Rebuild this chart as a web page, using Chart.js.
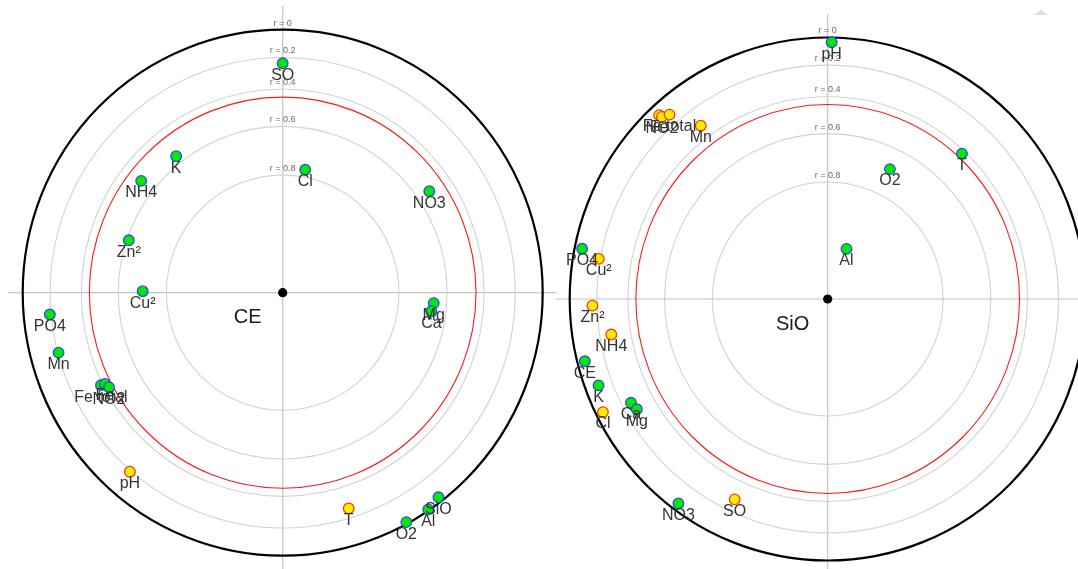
<!DOCTYPE html>
<html><head><meta charset="utf-8">
<script src="https://cdn.jsdelivr.net/npm/chart.js@4/dist/chart.umd.min.js"></script>
<style>
html,body{margin:0;padding:0;background:#fff;overflow:hidden;}
#wrap{position:relative;width:1078px;height:569px;}
#c1{position:absolute;left:0;top:0;}
#c2{position:absolute;left:556px;top:0;}
#tri{position:absolute;left:1034px;top:10px;width:0;height:0;border-left:7px solid transparent;border-right:7px solid transparent;border-bottom:5px solid #ddd;}
</style></head><body>
<div id="wrap"><canvas id="c1" width="556" height="569"></canvas><canvas id="c2" width="522" height="569"></canvas><div id="tri"></div></div>
<script>
// ring correlation levels (distance from centre = sqrt(1 - |r|))
const ringValues = [0, 0.2, 0.4, 0.6, 0.8];
const ringLabels = ['r = 0', 'r = 0.2', 'r = 0.4', 'r = 0.6', 'r = 0.8'];
const thresholdR = 0.447;

// Left panel: correlations with CE
const leftCenter = 'CE';
const leftLabels = ['SO', 'Cl', 'K', 'NH4', 'Zn²', 'Cu²', 'PO4', 'Mn', 'Fe total', 'Fe', 'NO2', 'pH', 'T', 'O2', 'Al', 'SiO', 'Mg', 'Ca', 'NO3'];
const leftAbsR   = [0.239, 0.774, 0.563, 0.523, 0.61, 0.71, 0.191, 0.205, 0.388, 0.412, 0.424, 0.191, 0.263, 0.013, 0.008, 0.036, 0.661, 0.668, 0.533];
const leftAngle  = [90, 79.5, 128.3, 142, 161.4, 179.4, 185.3, 194.8, 206.7, 206.9, 208.3, 229.2, 287.2, 298.6, 304.2, 307.6, 356.1, 353, 34.4];
const leftSign   = [1, 1, 1, 1, 1, 1, 1, 1, 1, 1, 1, -1, -1, 1, 1, 1, 1, 1, 1];

// Right panel: correlations with SiO
const rightCenter = 'SiO';
const rightLabels = ['pH', 'T', 'O2', 'Al', 'Mn', 'Fe', 'NO2', 'Fe total', 'PO4', 'Cu²', 'Zn²', 'NH4', 'CE', 'K', 'Cl', 'Ca', 'Mg', 'NO3', 'SO'];
const rightAbsR   = [0.036, 0.42, 0.695, 0.958, 0.319, 0.079, 0.102, 0.127, 0.057, 0.189, 0.168, 0.278, 0.057, 0.102, 0.054, 0.261, 0.275, 0.054, 0.283];
const rightAngle  = [89.1, 46.9, 64.1, 69.2, 126.6, 132.9, 132.7, 131, 168.6, 170.2, 181.6, 189.2, 194.2, 200.4, 206.4, 207.5, 209.7, 233.5, 244.8];
const rightSign   = [1, 1, 1, 1, -1, -1, -1, -1, 1, -1, -1, -1, 1, 1, -1, 1, 1, 1, -1];

function toPoints(absR, angle) {
  return absR.map((r, i) => {
    const d = Math.sqrt(1 - r);
    const a = angle[i] * Math.PI / 180;
    return { x: d * Math.cos(a), y: d * Math.sin(a) };
  });
}

const polarPlugin = {
  id: 'polarDecor',
  beforeDatasetsDraw(chart, args, opts) {
    const ctx = chart.ctx, xs = chart.scales.x, ys = chart.scales.y;
    const cx = xs.getPixelForValue(0), cy = ys.getPixelForValue(0);
    const rx = xs.getPixelForValue(1) - cx, ry = cy - ys.getPixelForValue(1);
    ctx.save();
    // axes
    ctx.strokeStyle = '#c4c4c4'; ctx.lineWidth = 1.2;
    ctx.beginPath();
    ctx.moveTo(xs.getPixelForValue(-1.055), cy); ctx.lineTo(xs.getPixelForValue(1.055), cy);
    ctx.moveTo(cx, ys.getPixelForValue(1.09)); ctx.lineTo(cx, ys.getPixelForValue(-1.09));
    ctx.stroke();
    // rings
    ringValues.forEach((v, i) => {
      const d = Math.sqrt(1 - v);
      ctx.beginPath();
      ctx.ellipse(cx, cy, rx * d, ry * d, 0, 0, Math.PI * 2);
      if (v === 0) { ctx.strokeStyle = '#000'; ctx.lineWidth = 2.2; }
      else { ctx.strokeStyle = '#d2d2d2'; ctx.lineWidth = 1.1; }
      ctx.stroke();
    });
    // significance threshold
    const dt = Math.sqrt(1 - thresholdR);
    ctx.beginPath();
    ctx.ellipse(cx, cy, rx * dt, ry * dt, 0, 0, Math.PI * 2);
    ctx.strokeStyle = '#ff1a1a'; ctx.lineWidth = 1.1; ctx.stroke();
    // ring labels
    ctx.fillStyle = '#6a6a6a'; ctx.font = '9px "Liberation Sans", Arial, sans-serif';
    ctx.textAlign = 'center'; ctx.textBaseline = 'middle';
    ringValues.forEach((v, i) => {
      const d = Math.sqrt(1 - v);
      ctx.fillText(ringLabels[i], cx, cy - ry * d - 6.5);
    });
    ctx.restore();
  },
  afterDatasetsDraw(chart, args, opts) {
    const ctx = chart.ctx, xs = chart.scales.x, ys = chart.scales.y;
    const cx = xs.getPixelForValue(0), cy = ys.getPixelForValue(0);
    ctx.save();
    // point labels
    const meta = chart.getDatasetMeta(0);
    const labels = chart.data.labels;
    ctx.fillStyle = '#353535'; ctx.font = '16px "Liberation Sans", Arial, sans-serif';
    ctx.textAlign = 'center'; ctx.textBaseline = 'middle';
    meta.data.forEach((el, i) => {
      ctx.fillText(labels[i], el.x, el.y + 12);
    });
    // centre dot and name
    ctx.beginPath(); ctx.arc(cx, cy, 4.6, 0, Math.PI * 2); ctx.fillStyle = '#000'; ctx.fill();
    ctx.fillStyle = '#1a1a1a'; ctx.font = '20px "Liberation Sans", Arial, sans-serif';
    ctx.fillText(opts.center, cx - 35, cy + 25);
    ctx.restore();
  }
};

function makeChart(id, labels, absR, angle, sign, center, xr, yr) {
  const pts = toPoints(absR, angle);
  return new Chart(document.getElementById(id), {
    type: 'scatter',
    data: {
      labels: labels,
      datasets: [{
        data: pts,
        pointRadius: 5.3,
        pointHoverRadius: 5.3,
        pointBorderWidth: 1.3,
        pointBackgroundColor: sign.map(s => s > 0 ? '#00ea00' : '#ffee00'),
        pointBorderColor: sign.map(s => s > 0 ? '#2a4fe6' : '#ff3a00'),
        clip: false
      }]
    },
    options: {
      responsive: false,
      devicePixelRatio: 1,
      animation: false,
      layout: { padding: 0, autoPadding: false },
      plugins: { legend: { display: false }, tooltip: { enabled: false }, polarDecor: { center: center } },
      scales: {
        x: { type: 'linear', min: xr[0], max: xr[1], display: false },
        y: { type: 'linear', min: yr[0], max: yr[1], display: false }
      }
    },
    plugins: [polarPlugin]
  });
}

makeChart('c1', leftLabels, leftAbsR, leftAngle, leftSign, leftCenter, [-1.0873, 1.0512], [-1.0506, 1.113]);
makeChart('c2', rightLabels, rightAbsR, rightAngle, rightSign, rightCenter, [-1.0531, 0.9702], [-1.0325, 1.1434]);
</script>
</body></html>
